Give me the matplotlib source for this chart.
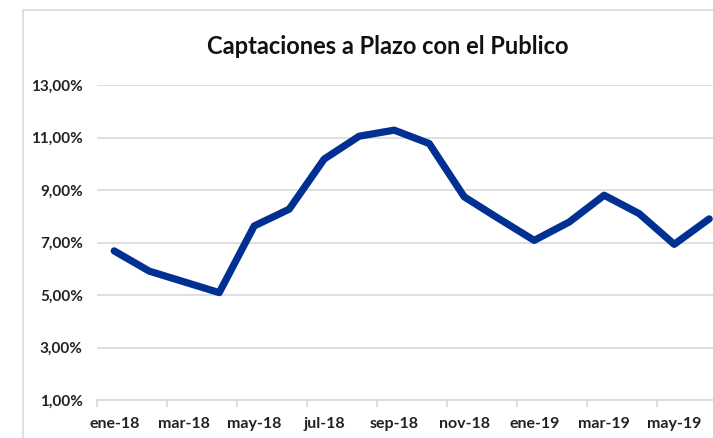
import matplotlib.pyplot as plt
from matplotlib.patches import Rectangle

# monthly series, ene-18 .. jun-19 (values in %)
months = ['ene-18', 'feb-18', 'mar-18', 'abr-18', 'may-18', 'jun-18',
          'jul-18', 'ago-18', 'sep-18', 'oct-18', 'nov-18', 'dic-18',
          'ene-19', 'feb-19', 'mar-19', 'abr-19', 'may-19', 'jun-19']
values = [6.68, 5.91, 5.50, 5.09, 7.63, 8.27,
          10.18, 11.05, 11.28, 10.77, 8.74, 7.90,
          7.08, 7.78, 8.80, 8.10, 6.93, 7.90]
y_ticks = [1, 3, 5, 7, 9, 11, 13]

plt.rcParams['font.family'] = ['Lato', 'DejaVu Sans']

fig = plt.figure(figsize=(7.13, 4.38), dpi=100)

# chart frame (cut off at right and bottom like the screenshot)
fig.patches.append(Rectangle((22.5 / 713, -0.1), 1.2, 1.1 - 10.5 / 438,
                             transform=fig.transFigure, fill=False,
                             edgecolor='#d9d9d9', linewidth=1.2))

ax = fig.add_axes([96.7 / 713, 38 / 438, 630 / 713, 315 / 438])
x = list(range(len(months)))
ax.plot(x, values, color='#003092', linewidth=5.2,
        solid_joinstyle='round', solid_capstyle='round', zorder=3, clip_on=False)

ax.set_xlim(-0.5, len(months) - 0.5)
ax.set_ylim(1, 13)

ax.set_yticks(y_ticks)
ax.set_yticklabels([f'{v:.2f}%'.replace('.', ',') for v in y_ticks],
                   fontsize=11, fontweight='bold', color='#222222')
ax.yaxis.grid(True, color='#d9d9d9', linewidth=1.2)
ax.set_axisbelow(True)
ax.tick_params(axis='y', length=0, pad=10)

# tick marks on category boundaries, labels every second month
ax.set_xticks([i - 0.5 for i in range(0, len(months), 2)])
ax.set_xticklabels([])
ax.set_xticks(x[::2], minor=True)
ax.set_xticklabels(months[::2], minor=True,
                   fontsize=11.5, fontweight='bold', color='#222222')
ax.tick_params(axis='x', which='major', length=5, color='#d9d9d9', width=1.2)
ax.tick_params(axis='x', which='minor', length=0, pad=12)

for side in ['top', 'right', 'left']:
    ax.spines[side].set_visible(False)
ax.spines['bottom'].set_color('#d9d9d9')
ax.spines['bottom'].set_linewidth(1.2)

fig.text(388 / 713, 1 - 46 / 438, 'Captaciones a Plazo con el Publico',
         ha='center', va='center', fontsize=17, fontweight='bold', color='#111111')

fig.savefig('out.png', dpi=100)
